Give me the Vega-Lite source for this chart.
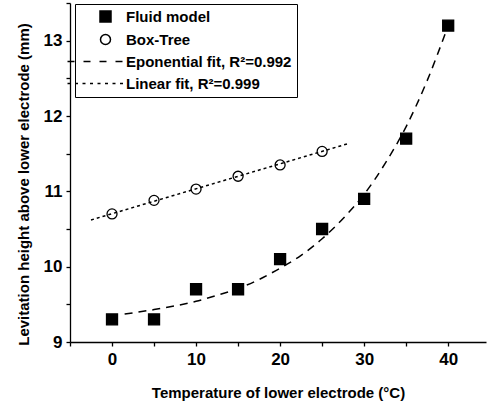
{
  "$schema": "https://vega.github.io/schema/vega-lite/v6.json",
  "width": 416,
  "height": 339,
  "autosize": {"type": "none"},
  "padding": {"left": 70, "top": 3, "right": 1, "bottom": 64},
  "background": "white",
  "config": {
    "view": {"stroke": null},
    "font": "Liberation Sans",
    "axis": {
      "grid": false,
      "domain": true,
      "domainColor": "black",
      "domainWidth": 1.3,
      "ticks": true,
      "tickColor": "black",
      "tickWidth": 1.3,
      "tickSize": 4,
      "labelFont": "Liberation Sans",
      "labelFontWeight": "bold",
      "labelFontSize": 17,
      "labelColor": "black",
      "titleFont": "Liberation Sans",
      "titleFontWeight": "bold",
      "titleFontSize": 15,
      "titleColor": "black"
    }
  },
  "data": {
    "values": [
      {"series": "Fluid model", "t": 0, "h": 9.3},
      {"series": "Fluid model", "t": 5, "h": 9.3},
      {"series": "Fluid model", "t": 10, "h": 9.7},
      {"series": "Fluid model", "t": 15, "h": 9.7},
      {"series": "Fluid model", "t": 20, "h": 10.1},
      {"series": "Fluid model", "t": 25, "h": 10.5},
      {"series": "Fluid model", "t": 30, "h": 10.9},
      {"series": "Fluid model", "t": 35, "h": 11.7},
      {"series": "Fluid model", "t": 40, "h": 13.2},
      {"series": "Box-Tree", "t": 0, "h": 10.7},
      {"series": "Box-Tree", "t": 5, "h": 10.88},
      {"series": "Box-Tree", "t": 10, "h": 11.03},
      {"series": "Box-Tree", "t": 15, "h": 11.2},
      {"series": "Box-Tree", "t": 20, "h": 11.35},
      {"series": "Box-Tree", "t": 25, "h": 11.53},
      {"series": "exp", "t": 1.5, "h": 9.37},
      {"series": "exp", "t": 5, "h": 9.43},
      {"series": "exp", "t": 7.5, "h": 9.48},
      {"series": "exp", "t": 10, "h": 9.54},
      {"series": "exp", "t": 12.5, "h": 9.62},
      {"series": "exp", "t": 15, "h": 9.71},
      {"series": "exp", "t": 17.5, "h": 9.83},
      {"series": "exp", "t": 20, "h": 9.98},
      {"series": "exp", "t": 22.5, "h": 10.15},
      {"series": "exp", "t": 25, "h": 10.37},
      {"series": "exp", "t": 27.5, "h": 10.64},
      {"series": "exp", "t": 30, "h": 10.96},
      {"series": "exp", "t": 32.5, "h": 11.37},
      {"series": "exp", "t": 35, "h": 11.86},
      {"series": "exp", "t": 37.5, "h": 12.47},
      {"series": "exp", "t": 40, "h": 13.2},
      {"series": "lin", "t": -2.5, "h": 10.62},
      {"series": "lin", "t": 28, "h": 11.63}
    ]
  },
  "encoding": {
    "x": {
      "field": "t",
      "type": "quantitative",
      "scale": {"domain": [-5, 44.5], "nice": false, "zero": false},
      "axis": {
        "title": "Temperature of lower electrode (°C)",
        "values": [-5, 0, 5, 10, 15, 20, 25, 30, 35, 40],
        "format": ".0f",
        "labelExpr": "datum.value % 10 === 0 ? datum.label : ''",
        "labelPadding": 5,
        "titlePadding": 18
      }
    },
    "y": {
      "field": "h",
      "type": "quantitative",
      "scale": {"domain": [9, 13.5], "nice": false, "zero": false},
      "axis": {
        "title": "Levitation height above lower electrode (mm)",
        "values": [9, 9.5, 10, 10.5, 11, 11.5, 12, 12.5, 13, 13.5],
        "format": ".0f",
        "labelExpr": "datum.value % 1 === 0 ? datum.label : ''",
        "labelPadding": 4,
        "titlePadding": 12,
        "titleY": 181
      }
    }
  },
  "layer": [
    {
      "transform": [{"filter": "datum.series === 'exp'"}],
      "mark": {"type": "line", "color": "black", "strokeWidth": 1.5, "strokeDash": [8, 6], "interpolate": "monotone"},
      "encoding": {}
    },
    {
      "transform": [{"filter": "datum.series === 'lin'"}],
      "mark": {"type": "line", "color": "black", "strokeWidth": 1.5, "strokeDash": [3, 3]},
      "encoding": {}
    },
    {
      "transform": [{"filter": "datum.series === 'Fluid model' || datum.series === 'Box-Tree'"}],
      "mark": {"type": "point", "filled": true, "stroke": "black", "strokeWidth": 1.3, "size": 100, "opacity": 1},
      "encoding": {
        "shape": {
          "field": "series",
          "type": "nominal",
          "scale": {
            "domain": ["Fluid model", "Box-Tree", "Eponential fit, R²=0.992", "Linear fit, R²=0.999"],
            "range": [
              "M-1.1,-1.1H1.1V1.1H-1.1Z",
              "M1,0A1,1,0,1,1,-1,0A1,1,0,1,1,1,0Z",
              "M-7.6,0H-6.2M-4.4,0H-3M-1.2,0H0.2M2,0H3.4",
              "M-7.6,0H-7M-6.1,0H-5.5M-4.6,0H-4M-3.1,0H-2.5M-1.6,0H-1M-0.1,0H0.5M1.4,0H2M2.9,0H3.5"
            ]
          },
          "legend": {
            "title": null,
            "orient": "none",
            "legendX": 5,
            "legendY": 1,
            "strokeColor": "black",
            "fillColor": "white",
            "padding": 5,
            "labelFont": "Liberation Sans",
            "labelFontWeight": "bold",
            "labelFontSize": 15,
            "labelColor": "black",
            "labelOffset": 13,
            "labelLimit": 400,
            "rowPadding": 6,
            "symbolSize": 100,
            "symbolOffset": 18,
            "encode": {"symbols": {"update": {"stroke": {"value": "black"}, "strokeWidth": {"value": 1.3}}}}
          }
        },
        "fill": {
          "field": "series",
          "type": "nominal",
          "scale": {
            "domain": ["Fluid model", "Box-Tree", "Eponential fit, R²=0.992", "Linear fit, R²=0.999"],
            "range": ["black", "transparent", "transparent", "transparent"]
          },
          "legend": {
            "title": null,
            "orient": "none",
            "legendX": 5,
            "legendY": 1,
            "strokeColor": "black",
            "fillColor": "white",
            "padding": 5,
            "labelFont": "Liberation Sans",
            "labelFontWeight": "bold",
            "labelFontSize": 15,
            "labelColor": "black",
            "labelOffset": 13,
            "labelLimit": 400,
            "rowPadding": 6,
            "symbolSize": 100,
            "symbolOffset": 18,
            "encode": {"symbols": {"update": {"stroke": {"value": "black"}, "strokeWidth": {"value": 1.3}}}}
          }
        }
      }
    }
  ]
}
